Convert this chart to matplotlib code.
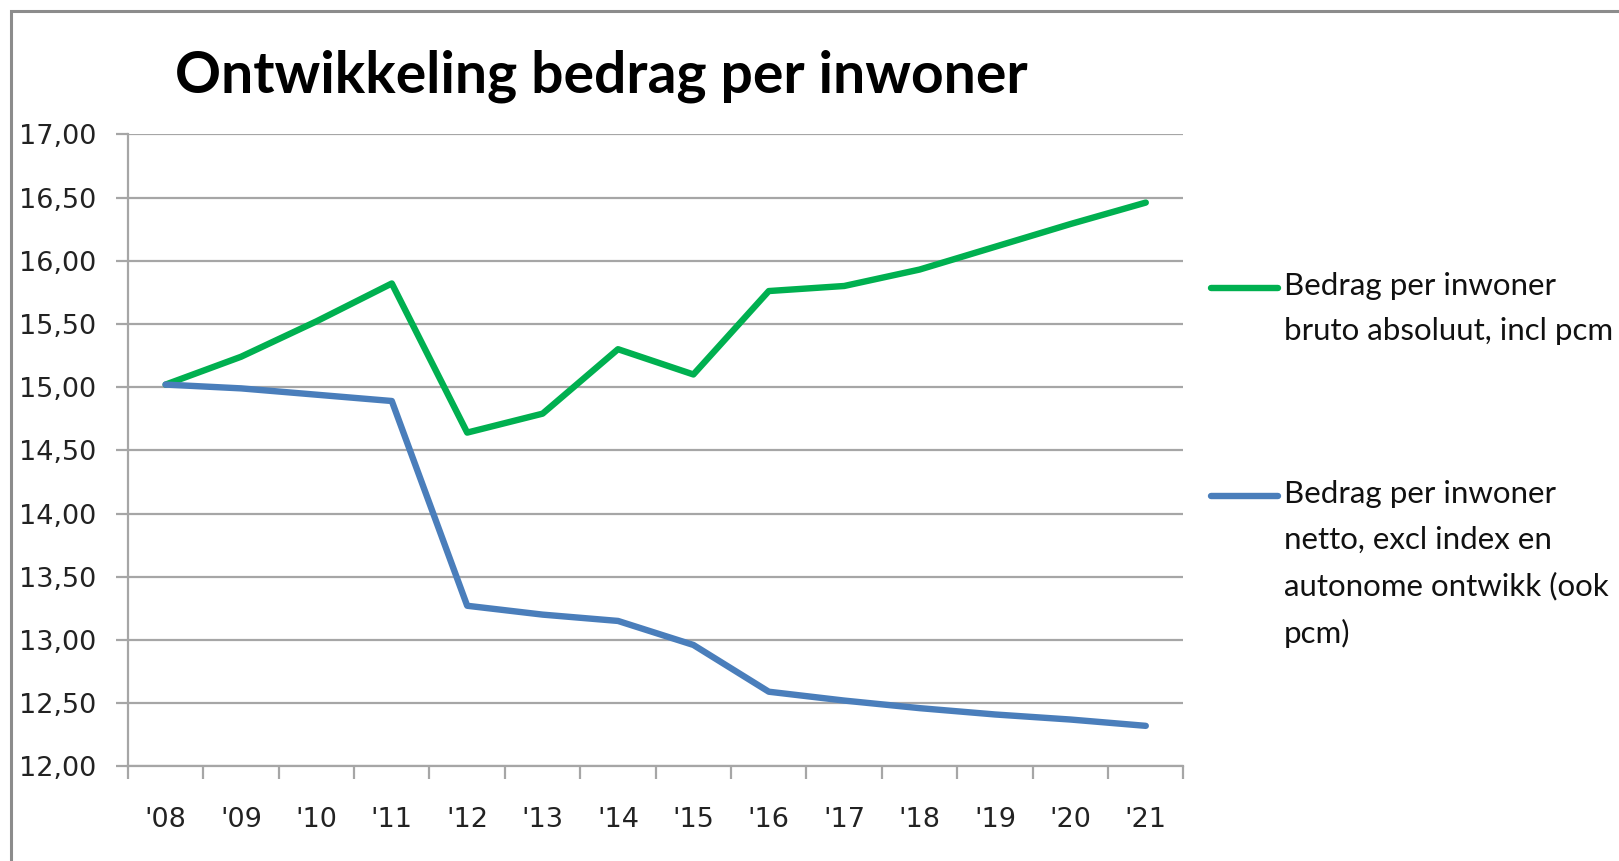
import matplotlib.pyplot as plt
from matplotlib.lines import Line2D
from matplotlib.patches import Rectangle
import numpy as np

# data
jaren = ["'08", "'09", "'10", "'11", "'12", "'13", "'14", "'15", "'16", "'17", "'18", "'19", "'20", "'21"]
bruto = [15.02, 15.24, 15.52, 15.82, 14.64, 14.79, 15.30, 15.10, 15.76, 15.80, 15.93, 16.11, 16.29, 16.46]
netto = [15.02, 14.99, 14.94, 14.89, 13.27, 13.20, 13.15, 12.96, 12.59, 12.52, 12.46, 12.41, 12.37, 12.32]
yticks = [12.0, 12.5, 13.0, 13.5, 14.0, 14.5, 15.0, 15.5, 16.0, 16.5, 17.0]

label_bruto = "Bedrag per inwoner\nbruto absoluut, incl pcm"
label_netto = "Bedrag per inwoner\nnetto, excl index en\nautonome ontwikk (ook\npcm)"

groen = '#00b050'
blauw = '#4a7ebb'
grijs = '#a6a6a6'

fig = plt.figure(figsize=(16.19, 8.61), dpi=100)
ax = fig.add_axes([0.079, 0.110, 0.652, 0.734])

x = np.arange(len(jaren))
ax.plot(x, bruto, color=groen, linewidth=4.6, solid_capstyle='round', solid_joinstyle='round', zorder=3)
ax.plot(x, netto, color=blauw, linewidth=4.6, solid_capstyle='round', solid_joinstyle='round', zorder=3)

ax.set_xlim(-0.5, len(jaren) - 0.5)
ax.set_ylim(12, 17)
ax.set_yticks(yticks)
ax.set_yticklabels([f"{v:.2f}".replace('.', ',') for v in yticks])

# category boundaries as major ticks, labels on minor ticks
ax.set_xticks(np.arange(len(jaren) + 1) - 0.5)
ax.set_xticklabels([])
ax.set_xticks(x, minor=True)
ax.set_xticklabels(jaren, minor=True)

ax.grid(axis='y', color=grijs, linewidth=1.6, zorder=0)
for s in ['top', 'right']:
    ax.spines[s].set_visible(False)
for s in ['left', 'bottom']:
    ax.spines[s].set_color(grijs)
    ax.spines[s].set_linewidth(1.6)

ax.tick_params(axis='y', length=9, width=1.6, color=grijs, pad=14, labelsize=19.5, labelcolor='#222222')
ax.tick_params(axis='x', which='major', length=9, width=1.6, color=grijs)
ax.tick_params(axis='x', which='minor', length=0, pad=29, labelsize=19.5, labelcolor='#222222')

fig.text(0.108, 0.911, "Ontwikkeling bedrag per inwoner", fontsize=41, fontweight='bold',
         family='Lato', va='center', ha='left')

# legend drawn by hand so the key sits on the first text line
W, H = 1619, 861
for kleur, tekst, ytop in [(groen, label_bruto, 288), (blauw, label_netto, 496)]:
    fig.add_artist(Line2D([1211 / W, 1278 / W], [1 - ytop / H, 1 - ytop / H], color=kleur,
                          linewidth=4.6, solid_capstyle='round', transform=fig.transFigure))
    fig.text(1284 / W, 1 - (ytop - 16) / H, tekst, fontsize=22.5, family='Lato', va='top', ha='left',
             linespacing=1.76, color='#111111')

# outer chart border (cut off at right and bottom)
fig.add_artist(Rectangle((11 / W, -0.1), 1.2, 1 - 11 / H + 0.1, fill=False, edgecolor='#8c8c8c',
                         linewidth=2.2, transform=fig.transFigure))

fig.savefig('out.png', dpi=100)
